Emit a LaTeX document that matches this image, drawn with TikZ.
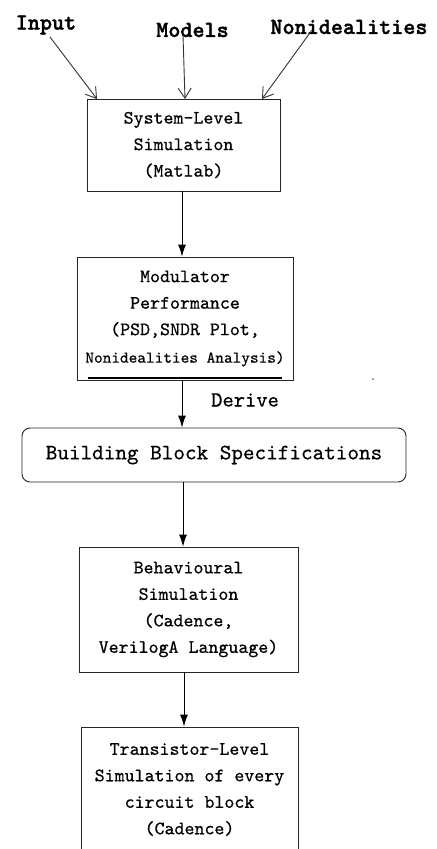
\documentclass[tikz,border=0pt]{standalone}
\usepackage{fontspec}
\usetikzlibrary{arrows.meta}
\newfontfamily\monof[FakeBold=0.5]{lmmono10-regular.otf}
\newfontfamily\titlef[FakeBold=1.5]{lmmonolt10-bold.otf}
\tikzset{
  boxline/.style={draw=black!85, line width=0.9bp},
  blk/.style={boxline, rectangle, inner sep=0pt, align=center,
    font=\monof\fontsize{19bp}{26.5bp}\selectfont},
  txt/.style={inner sep=0pt, align=center, font=\monof\fontsize{19bp}{26.5bp}\selectfont},
  ttl/.style={inner sep=0pt, font=\titlef\fontsize{23bp}{26bp}\selectfont},
  flow/.style={draw=black, line width=0.9bp, -{Latex[length=12bp,width=8bp]}},
  inarr/.style={draw=black!80, line width=0.9bp, -{Straight Barb[length=10bp,width=13bp]}}
}
\begin{document}
\begin{tikzpicture}[x=1bp,y=-1bp]
\useasboundingbox (0,0) rectangle (437,849);
\clip (0,0) rectangle (437,849);
\fill[white] (0,0) rectangle (437,849);

% titles
\node[ttl] (tin) at (46,25) {Input};
\node[ttl] (tmo) at (192.5,30) {Models};
\node[ttl] (tno) at (349,27) {Nonidealities};
\coordinate (sin) at (50,37);
\coordinate (smo) at (183,35);
\coordinate (sno) at (312,30);

% boxes
\node[blk, minimum width=193bp, minimum height=92bp] (b1) at (183.5,145)
  {System-Level\\Simulation\\(Matlab)};
\node[blk, minimum width=216bp, minimum height=123bp] (b2) at (185,318.5)
  {Modulator\\Performance\\(PSD,SNDR Plot,\\[1bp]{\fontsize{16.5bp}{22bp}\selectfont Nonidealities Analysis)}};
\draw[black, line width=1.6bp] (88,378) -- (282,378);
\fill[black!70] (373,379) circle (0.8bp);
\node[txt, font=\monof\fontsize{21.5bp}{26bp}\selectfont, anchor=west] (der) at (211,400) {Derive};
\node[boxline, rectangle, rounded corners=8bp, minimum width=384bp, minimum height=54bp,
  inner sep=0pt, font=\monof\fontsize{22.1bp}{26bp}\selectfont] (b3) at (214,455)
  {Building Block Specifications};
\node[blk, minimum width=219bp, minimum height=125bp] (b4) at (188.5,609.5)
  {Behavioural\\Simulation\\(Cadence,\\VerilogA Language)};
\node[boxline, rectangle, inner sep=0pt, minimum width=217bp, minimum height=150bp] (b5) at (189.5,802) {};
\node[txt] (b5t) at (189.5,789.5)
  {Transistor-Level\\Simulation of every\\circuit block\\(Cadence)};

% input arrows
\draw[inarr] (sin) -- (97,99);
\draw[inarr] (smo) -- (185,99);
\draw[inarr] (sno) -- (262,99);

% flow arrows
\draw[flow] (b1.south -| 182,0) -- (b2.north -| 182,0);
\draw[flow] (b2.south -| 182,0) -- (b3.north -| 182,0);
\draw[flow] (b3.south -| 183,0) -- (b4.north -| 183,0);
\draw[flow] (b4.south -| 184,0) -- (b5.north -| 184,0);
\end{tikzpicture}
\end{document}
